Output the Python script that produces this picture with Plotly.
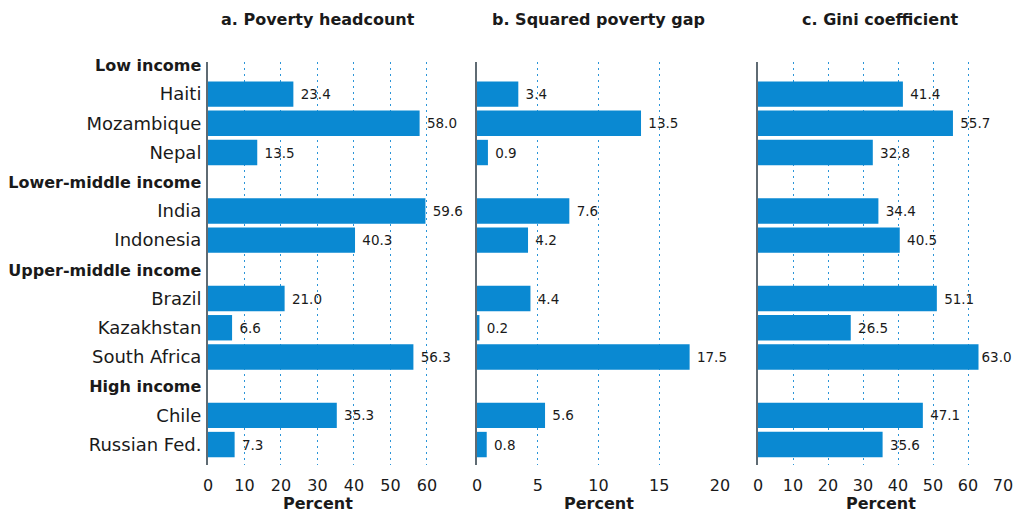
import plotly.graph_objects as go

groups = ["Low income", "Lower-middle income", "Upper-middle income", "High income"]
group_countries = [
    ["Haiti", "Mozambique", "Nepal"],
    ["India", "Indonesia"],
    ["Brazil", "Kazakhstan", "South Africa"],
    ["Chile", "Russian Fed."],
]
headcount = [23.4, 58.0, 13.5, 59.6, 40.3, 21.0, 6.6, 56.3, 35.3, 7.3]
sq_gap = [3.4, 13.5, 0.9, 7.6, 4.2, 4.4, 0.2, 17.5, 5.6, 0.8]
gini = [41.4, 55.7, 32.8, 34.4, 40.5, 51.1, 26.5, 63.0, 47.1, 35.6]

panel_titles = ["a. Poverty headcount", "b. Squared poverty gap", "c. Gini coefficient"]
x_ticks = [[0, 10, 20, 30, 40, 50, 60], [0, 5, 10, 15, 20], [0, 10, 20, 30, 40, 50, 60, 70]]
x_ranges = [[0, 60.3], [0, 20], [0, 70]]

W, H = 1016, 514
FONT = "DejaVu Sans"
BAR = "#0a89d2"
GRID = "#2b95d8"
TXT = "#1a1a1a"

# build row positions
tickvals, ticktext, bar_y = [], [], []
i = 0
for g, cs in zip(groups, group_countries):
    tickvals.append(i)
    ticktext.append("<span style='font-size:16px'><b>%s</b></span>" % g)
    i += 1
    for c in cs:
        tickvals.append(i)
        ticktext.append(c)
        bar_y.append(i)
        i += 1
n_rows = i

top_px, bot_px = 62, 465
domains = [(208, 428), (477, 720), (758, 1003)]

fig = go.Figure()
for k, vals in enumerate([headcount, sq_gap, gini]):
    suffix = "" if k == 0 else str(k + 1)
    texts = [" %.1f" % v for v in vals]
    if k == 2:
        texts = ["%.1f" % v if v > 60 else " %.1f" % v for v in vals]
    fig.add_trace(go.Bar(
        x=vals, y=bar_y, orientation="h",
        marker=dict(color=BAR, line=dict(width=0)),
        width=0.87, text=texts, textposition="outside",
        textfont=dict(family=FONT, size=13.5, color=TXT),
        cliponaxis=False, hoverinfo="skip",
        xaxis="x" + suffix, yaxis="y" + suffix, showlegend=False,
    ))
    d0, d1 = domains[k]
    fig.update_layout(**{
        "xaxis" + suffix: dict(
            domain=[d0 / W, d1 / W], range=x_ranges[k], tickvals=x_ticks[k],
            showgrid=True, gridcolor=GRID, griddash="2px,4px", gridwidth=1,
            zeroline=False, showline=False, ticks="", ticklabelstandoff=9,
            tickfont=dict(family=FONT, size=16, color=TXT),
            anchor="y" + suffix, fixedrange=True, automargin=False,
        ),
        "yaxis" + suffix: dict(
            range=[n_rows - 1 + 0.7, -0.1], tickvals=tickvals,
            ticktext=ticktext if k == 0 else [""] * len(tickvals),
            showticklabels=(k == 0), showgrid=False, zeroline=False,
            showline=True, linecolor="#5f6b73", linewidth=2,
            ticks="", ticklabelstandoff=1,
            tickfont=dict(family=FONT, size=18, color=TXT),
            anchor="x" + suffix, fixedrange=True, automargin=False,
        ),
    })
    cx = (d0 + d1) / 2 / W
    fig.add_annotation(text="<b>%s</b>" % panel_titles[k], x=cx,
                       y=(bot_px - 20) / (bot_px - top_px),
                       xref="paper", yref="paper", showarrow=False,
                       font=dict(family=FONT, size=16, color=TXT), xanchor="center", yanchor="middle")
    fig.add_annotation(text="<b>Percent</b>", x=cx, y=-(504 - bot_px) / (bot_px - top_px),
                       xref="paper", yref="paper", showarrow=False,
                       font=dict(family=FONT, size=16, color=TXT), xanchor="center", yanchor="middle")

fig.update_layout(
    width=W, height=H, bargap=0.15,
    margin=dict(l=0, r=0, t=top_px, b=H - bot_px, autoexpand=False),
    paper_bgcolor="white", plot_bgcolor="white",
    font=dict(family=FONT, size=16, color=TXT),
)
fig.write_html("out.html", config={"displayModeBar": False},
               post_script="document.body.style.margin='0';document.body.style.overflow='hidden';")
